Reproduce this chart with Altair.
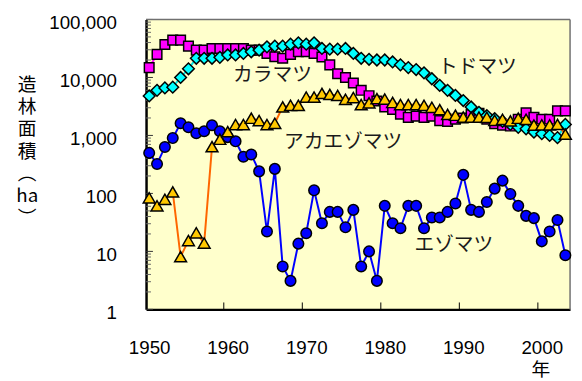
import altair as alt
import pandas as pd

years = list(range(1950, 2004))

# カラマツ (magenta squares)
karamatsu = [14800, 25000, 37000, 44000, 44000, 34700, 29600, 29600, 31600, 31600,
             31600, 31600, 31600, 29600, 29600, 25900, 22800, 21400, 25000, 27700,
             27700, 26000, 22500, 16500, 11600, 10000, 8040, 6000, 4850, 3930,
             3100, 2800, 2330, 2050, 2150, 2050, 2150, 1800, 1750, 1900,
             2000, 2300, 2400, 1900, 1600, 1500, 1450, 1900, 2450, 2050,
             1900, 1900, 2650, 2650]

# トドマツ (cyan diamonds)
todomatsu = [4800, 6000, 6600, 6800, 10000, 14100, 21400, 21400, 21400, 22200,
             24400, 24400, 25900, 27700, 29600, 33700, 34700, 34700, 37500, 39500,
             37500, 39500, 31600, 30800, 30800, 31600, 26000, 21400, 20600, 20000,
             20000, 18500, 16500, 14800, 13700, 12000, 9500, 7300, 6000, 4900,
             4000, 3100, 2500, 2200, 1950, 1750, 1550, 1380, 1300, 1140,
             1070, 1000, 915, 1550]

# エゾマツ (blue circles)
ezomatsu = [500, 322, 633, 900, 1620, 1380, 1090, 1180, 1500, 1180,
            935, 791, 430, 470, 240, 22, 265, 5.5, 3.1, 13.6,
            20.6, 113, 30.5, 48, 48, 26, 52, 5.5, 10, 3.1,
            61, 30.5, 25, 61, 61, 25, 38.5, 38.5, 48, 67,
            209, 52, 48, 71, 121, 166, 98, 61, 41, 37.5,
            14.9, 22, 34.7, 8.6]

# アカエゾマツ (yellow triangles)
akaezomatsu = [84, 61, 79, 106, 8.1, 15.4, 20.9, 13.9, 640, 860,
               1160, 1540, 1540, 1980, 1800, 1540, 1620, 3100, 3300, 3300,
               4590, 4590, 5300, 5100, 4900, 4200, 4500, 3400, 3650, 4300,
               4250, 3700, 3400, 3400, 3400, 3300, 3050, 2780, 2300, 2230,
               2070, 2070, 2070, 2050, 1820, 1900, 1780, 1980, 1900, 1510,
               1520, 1520, 1550, 1050]

label_names = ["カラマツ", "トドマツ", "アカエゾマツ", "エゾマツ"]
label_years = [1965.7, 1991.8, 1974.7, 1988.8]
label_values = [11200, 15300, 757, 12.7]

x_label_values = [1950, 1960, 1970, 1980, 1990, 2000]
x_tick_values = [1959.5, 1969.5, 1979.5, 1989.5, 1999.5]
y_label_values = [1, 10, 100, 1000, 10000, 100000]
y_minor_values = [m * 10 ** k for k in range(5) for m in range(2, 10)]

JP = "Noto Sans CJK JP"
LAT = "Liberation Sans"

xscale = alt.Scale(domain=[1949.6, 2003.6], nice=False, zero=False)
yscale = alt.Scale(type="log", domain=[1, 100000], nice=False)


def frame(vals):
    return pd.DataFrame({"year": years, "value": vals})


main_x_axis = alt.Axis(orient="bottom", values=x_label_values, format="d",
                       ticks=False, tickSize=0, domain=True, domainColor="black",
                       domainWidth=2.5, grid=False, labelFont=LAT, labelFontSize=19,
                       labelColor="black", labelPadding=45, labelBaseline="alphabetic",
                       labelFlush=False, title="年", titleFont=JP, titleFontSize=19,
                       titleFontWeight="normal", titleColor="black", titleX=400,
                       titleY=61, titleBaseline="middle", titleAlign="center",
                       titleAngle=0)
main_y_axis = alt.Axis(orient="left", values=y_label_values, format=",",
                       ticks=False, tickSize=0, domain=True, domainColor="black",
                       domainWidth=2.5, grid=False, labelFont=LAT, labelFontSize=19,
                       labelColor="black", labelPadding=30, labelOffset=3,
                       labelFlush=False, labelOverlap=False,
                       title=["造", "林", "面", "積", " ", "︵", "ha", "︶"],
                       titleFont=JP, titleFontSize=19, titleFontWeight="normal",
                       titleColor="black", titleX=-121, titleY=57, titleAngle=0,
                       titleAlign="center", titleBaseline="top", titleLineHeight=22.5)


def line_layer(vals, color):
    return alt.Chart(frame(vals)).mark_line(color=color, strokeWidth=2).encode(
        x=alt.X("year:Q", scale=xscale),
        y=alt.Y("value:Q", scale=yscale),
    )


def point_layer(vals, shape, size, fill):
    return alt.Chart(frame(vals)).mark_point(
        shape=shape, size=size, filled=True, fill=fill, stroke="black",
        strokeWidth=1.5, opacity=1,
    ).encode(
        x=alt.X("year:Q", scale=xscale),
        y=alt.Y("value:Q", scale=yscale),
    )


# the axes are defined on the first layers; inward tick marks are drawn through the scales
x_ticks = alt.Chart(pd.DataFrame({"year": x_tick_values})).mark_rule(
    color="black", strokeWidth=1
).encode(
    x=alt.X("year:Q", scale=xscale, axis=main_x_axis),
    y=alt.value(287), y2=alt.value(294),
)
y_major = alt.Chart(pd.DataFrame({"value": y_label_values})).mark_rule(
    color="#333333", strokeWidth=1
).encode(
    y=alt.Y("value:Q", scale=yscale, axis=main_y_axis),
    x=alt.value(0), x2=alt.value(7),
)
y_minor = alt.Chart(pd.DataFrame({"value": y_minor_values})).mark_rule(
    color="#666666", strokeWidth=1
).encode(
    y=alt.Y("value:Q", scale=yscale),
    x=alt.value(0), x2=alt.value(5),
)

frame_df = pd.DataFrame({"k": [0]})
border_top = alt.Chart(frame_df).mark_rule(color="#707070", strokeWidth=1.5).encode(
    x=alt.value(0), x2=alt.value(430), y=alt.value(0)
)
border_right = alt.Chart(frame_df).mark_rule(color="#707070", strokeWidth=1.5).encode(
    x=alt.value(430), y=alt.value(0), y2=alt.value(294)
)

labels_df = pd.DataFrame({"name": label_names, "year": label_years, "value": label_values})
labels = alt.Chart(labels_df).mark_text(
    font=JP, fontSize=20, color="#1a1a1a", align="center", baseline="middle"
).encode(
    x=alt.X("year:Q", scale=xscale),
    y=alt.Y("value:Q", scale=yscale),
    text="name:N",
)

chart = alt.layer(
    x_ticks, y_major, y_minor, border_top, border_right,
    line_layer(karamatsu, "#FF00FF"),
    point_layer(karamatsu, "square", 95, "#FF00FF"),
    line_layer(todomatsu, "#00E5E5"),
    point_layer(todomatsu, "diamond", 140, "#00FFFF"),
    line_layer(ezomatsu, "#0000FF"),
    point_layer(ezomatsu, "circle", 115, "#0000FF"),
    line_layer(akaezomatsu, "#FF6600"),
    point_layer(akaezomatsu, "triangle-up", 145, "#FFC800"),
    labels,
).properties(
    width=430, height=294,
    autosize=alt.AutoSizeParams(type="none"),
    padding={"left": 140, "top": 9, "right": 4, "bottom": 70},
    background="white",
).configure_view(
    fill="#FFFFCC", strokeWidth=0
)

chart.save("out.html", embed_options={"renderer": "svg", "actions": False})
